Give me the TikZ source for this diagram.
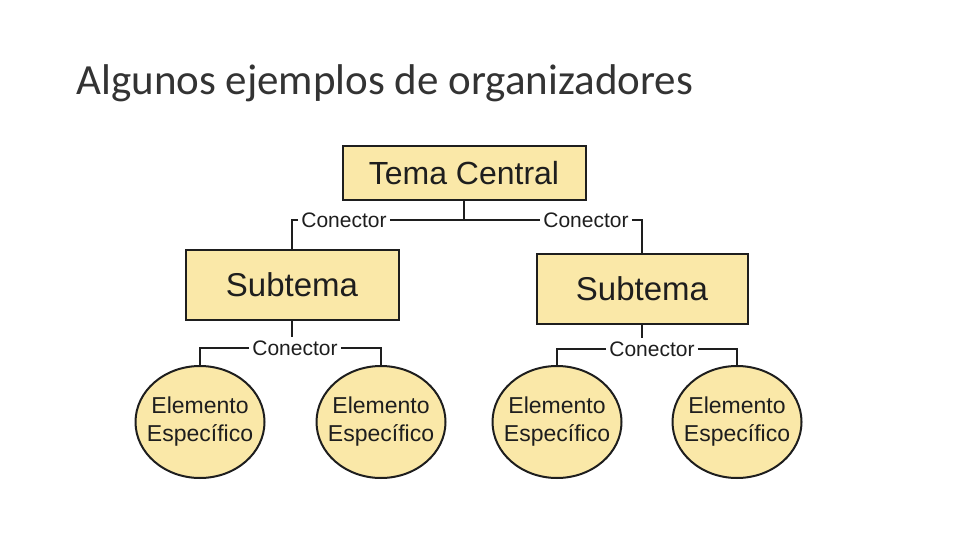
\documentclass[tikz,border=0pt]{standalone}
\usepackage{fontspec}
\usetikzlibrary{shapes.geometric}
\setmainfont{Liberation Sans}
\newfontfamily\titlefont{Carlito}
\definecolor{fondo}{RGB}{250,232,168}
\definecolor{trazo}{RGB}{30,30,30}
\newcommand{\dosrenglones}[2]{\makebox[0pt]{\begin{tabular}{@{}c@{}}#1\\#2\end{tabular}}}

\begin{document}
\begin{tikzpicture}[x=1pt,y=-1pt]
    \tikzstyle{caja}=[draw=trazo,line width=2pt,fill=fondo,inner sep=0pt,text=trazo]
    \tikzstyle{elemento}=[ellipse,draw=trazo,line width=2pt,fill=fondo,inner sep=0pt,text=trazo,
      minimum width=129pt,minimum height=112pt,font=\fontsize{23}{28}\selectfont]
    \tikzstyle{conector}=[inner sep=3pt,text=trazo,font=\fontsize{21}{25}\selectfont]
    \tikzstyle{linea}=[draw=trazo,line width=1.8pt]
    \useasboundingbox (0,0) rectangle (960,540);
    \node[anchor=base west,font=\titlefont\fontsize{43}{50}\selectfont,text=black!80] (title) at (73,95) {Algunos ejemplos de organizadores};
    \node[caja,minimum width=243pt,minimum height=54pt,font=\fontsize{32}{38}\selectfont] (central) at (464,173) {Tema Central};
    \node[caja,minimum width=213pt,minimum height=70pt,font=\fontsize{33}{39}\selectfont] (subA) at (292,285) {Subtema};
    \node[caja,minimum width=211pt,minimum height=70pt,font=\fontsize{33}{39}\selectfont] (subB) at (642,289) {Subtema};
    \node[conector] (conA) at (344,220) {Conector};
    \node[conector] (conB) at (586,220) {Conector};
    \node[conector] (conC) at (295,348) {Conector};
    \node[conector] (conD) at (652,349) {Conector};
    \node[elemento] (elA) at (200,422) {\dosrenglones{Elemento}{Específico}};
    \node[elemento] (elB) at (381,422) {\dosrenglones{Elemento}{Específico}};
    \node[elemento] (elC) at (557,422) {\dosrenglones{Elemento}{Específico}};
    \node[elemento] (elD) at (737,422) {\dosrenglones{Elemento}{Específico}};
    \draw[linea] (central.south) -- (central.south |- conA);
    \draw[linea] (conA.east) -- (conB.west);
    \draw[linea] (conA.west) -| (subA.north);
    \draw[linea] (conB.east) -| (subB.north);
    \draw[linea] (subA.south) -- (subA.south |- conC.north);
    \draw[linea] (conC.west) -| (elA.north);
    \draw[linea] (conC.east) -| (elB.north);
    \draw[linea] (subB.south) -- (subB.south |- conD.north);
    \draw[linea] (conD.west) -| (elC.north);
    \draw[linea] (conD.east) -| (elD.north);
\end{tikzpicture}
\end{document}
